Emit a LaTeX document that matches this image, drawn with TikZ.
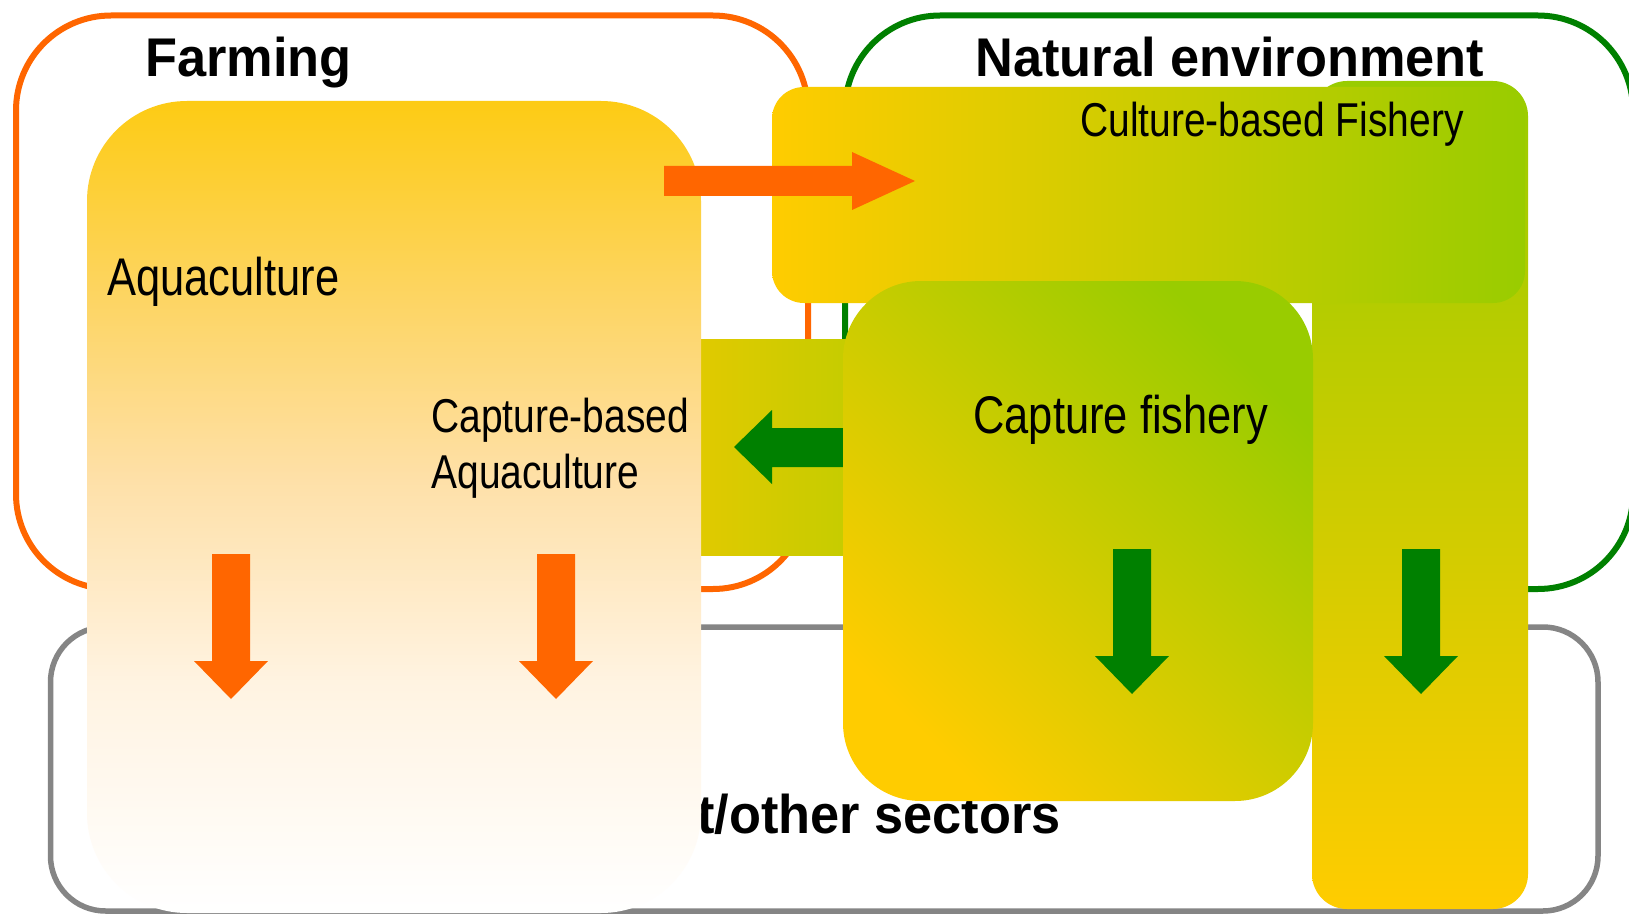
\documentclass[tikz,border=0pt]{standalone}
\usepackage{fontspec}
\setmainfont{Liberation Sans}
\newfontfamily\titlefont{Liberation Sans}[FakeStretch=0.96]
\newfontfamily\narrowfont{Liberation Sans}[FakeStretch=0.82]
\usetikzlibrary{fit}
\definecolor{orangeA}{HTML}{FF6600}
\definecolor{greenA}{HTML}{008000}
\definecolor{goldA}{HTML}{FFCC00}
\definecolor{limeA}{HTML}{99CC00}
\definecolor{grayA}{HTML}{858585}
\definecolor{aqTop}{RGB}{253,203,20}
\definecolor{aqA}{RGB}{253,213,100}
\definecolor{aqB}{RGB}{254,224,168}
\definecolor{aqC}{RGB}{255,243,225}
\definecolor{midL}{RGB}{224,202,0}
\definecolor{midR}{RGB}{198,204,0}
\pgfdeclareverticalshading{aquashade}{100bp}{color(0bp)=(white); color(25bp)=(white); color(39.3bp)=(aqC); color(51.7bp)=(aqB); color(62.7bp)=(aqA); color(75bp)=(aqTop); color(100bp)=(aqTop)}
\begin{document}
\begin{tikzpicture}[x=0.5pt,y=-0.5pt,
  areabox/.style={inner sep=0pt, line width=3pt, rounded corners=47.5pt},
  fillbox/.style={inner sep=0pt, draw=none},
  titletext/.style={inner sep=0pt, anchor=base west, font=\titlefont\bfseries\fontsize{27.25}{30}\selectfont},
  labelbig/.style={inner sep=0pt, anchor=base west, font=\narrowfont\fontsize{26.5}{30}\selectfont},
  labelsmall/.style={inner sep=0pt, anchor=base west, font=\narrowfont\fontsize{23.75}{28}\selectfont},
  downarrow/.pic={\fill (-19,0) -- (19,0) -- (19,107) -- (37,107) -- (0,145) -- (-37,107) -- (-19,107) -- cycle;}
]
\useasboundingbox (0,0) rectangle (1629,915);
\clip (0,0) rectangle (1629,915);
\fill[white] (0,0) rectangle (1629,915);

% outline areas
\node[areabox, draw=orangeA, fit={(16,15.5) (808,589)}] (farm) {};
\node[areabox, draw=greenA, fit={(845,15.5) (1633,589)}] (nat) {};
\node[areabox, draw=grayA, line width=2.75pt, rounded corners=27.5pt, fit={(50.5,627) (1598,911)}] (market) {};
\node[titletext, anchor=base east] (mktT) at (1061,833) {Market/other sectors};

% vertical bar (culture-based fishery release)
\node[fillbox, shade, top color=limeA, bottom color=goldA, rounded corners=17.5pt, fit={(1312,81) (1528,909)}] (bar) {};
% culture-based fishery box
\node[fillbox, shade, left color=goldA, right color=limeA, rounded corners=16pt, fit={(772,87) (1525,303)}] (cbf) {};
% middle connecting bar
\node[fillbox, shade, left color=midL, right color=midR, fit={(701,339) (846,555)}] (mid) {};
% green arrow to capture-based aquaculture
\fill[greenA] (850,428) -- (772,428) -- (772,410) -- (734,447) -- (772,484) -- (772,467) -- (850,467) -- cycle;
% capture fishery box
\node[fillbox, shade, top color=limeA, bottom color=goldA, shading angle=-45, rounded corners=39pt, fit={(843,281) (1313,801)}] (cf) {};
% aquaculture box
\node[fillbox, shade, shading=aquashade, rounded corners=50pt, fit={(87,101) (701,913)}] (aqua) {};

% orange arrow to culture-based fishery
\fill[orangeA] (664,166) -- (852,166) -- (852,152) -- (915,181) -- (852,210) -- (852,196) -- (664,196) -- cycle;

% down arrows
\pic[color=orangeA] at (231,554) {downarrow};
\pic[color=orangeA] at (556,554) {downarrow};
\pic[color=greenA] at (1132,549) {downarrow};
\pic[color=greenA] at (1421,549) {downarrow};

% texts
\node[titletext] (farmT) at (145,77) {Farming};
\node[titletext] (natT) at (975,77) {Natural environment};
\node[labelbig] (aquaT) at (107,295) {Aquaculture};
\node[labelsmall] (cbaT1) at (431,432) {Capture-based};
\node[labelsmall] (cbaT2) at (431,488) {Aquaculture};
\node[labelsmall] (cbfT) at (1080,137) {Culture-based Fishery};
\node[labelbig] (cfT) at (973,433) {Capture fishery};
\end{tikzpicture}
\end{document}
